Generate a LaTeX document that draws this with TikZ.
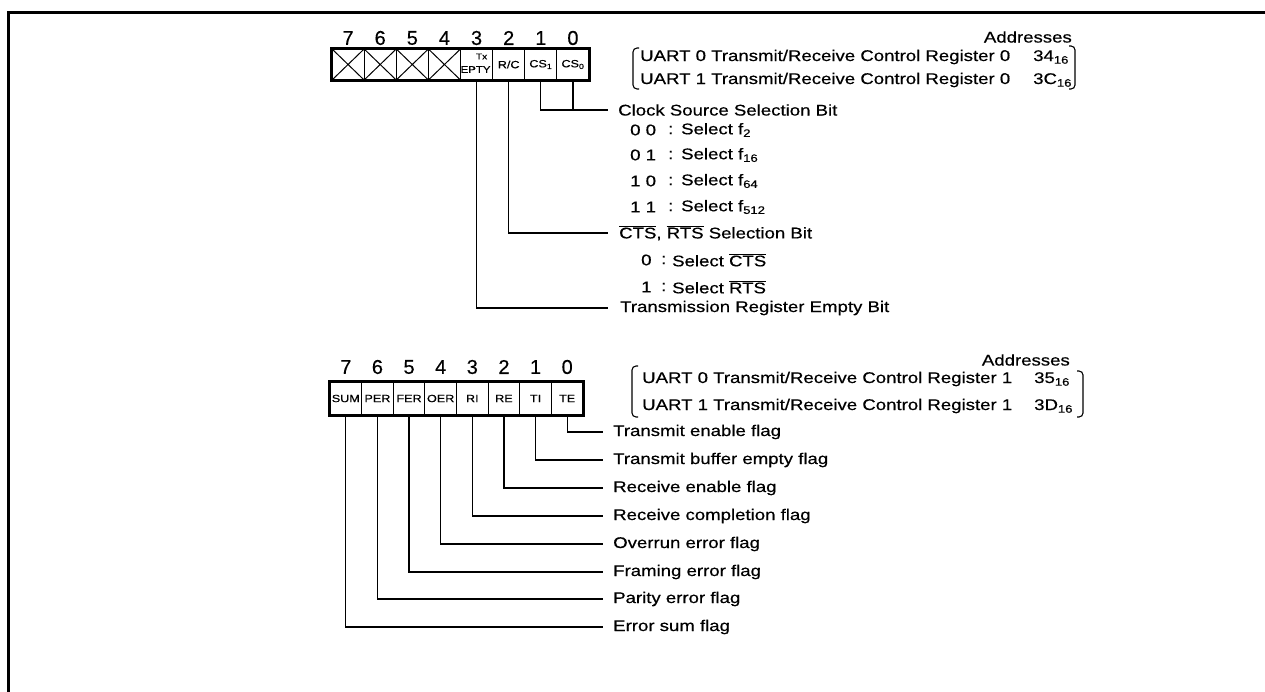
\documentclass[tikz,border=0pt]{standalone}
\usepackage{fontspec}
\setmainfont{Liberation Sans}[FakeStretch=1.2,FakeBold=0.5]
\newfontfamily\digfont{Liberation Sans}[FakeStretch=1.0,FakeBold=0.3]
\usetikzlibrary{calc}
\begin{document}
\begin{tikzpicture}[x=1pt,y=-1pt,
  lbl/.style={anchor=west,inner sep=0pt,font=\fontsize{15.5}{18}\selectfont},
  dig/.style={inner sep=0pt,font=\digfont\fontsize{20}{22}\selectfont},
  cell/.style={draw,line width=1pt,inner sep=0pt,font=\fontsize{10.5}{11}\selectfont},
  wire/.style={line width=1.2pt},
  regbox/.style={draw,line width=2.8pt},
  brk/.style={line width=1.1pt,rounded corners=4pt}]
\useasboundingbox (0,0) rectangle (1265,692);
% frame
\draw[line width=3pt] (8,692) -- (8,13) -- (1265,13);

% ---------- top register ----------
\foreach \i in {0,...,7}{
  \pgfmathtruncatemacro\b{7-\i}
  \node[cell,minimum width=32.125pt,minimum height=31pt] (t\b) at ({332+(\i+0.5)*32.125},64.5) {};
  \node[dig] (td\b) at ({332+(\i+0.5)*32.125},38) {\b};
}
\foreach \b in {7,6,5,4}{
  \draw[line width=1pt] (t\b.north west) -- (t\b.south east) (t\b.south west) -- (t\b.north east);
}
\node[inner sep=0pt,font=\fontsize{8.5}{9}\selectfont] (tx) at ($(t3)+(5,-8)$) {Tx};
\node[inner sep=0pt,font=\fontsize{9.5}{10}\selectfont] (epty) at ($(t3)+(-1,5)$) {EPTY};
\node[inner sep=0pt,font=\fontsize{10.5}{11}\selectfont] (rc) at (t2) {R/C};
\node[inner sep=0pt,font=\fontsize{10.5}{11}\selectfont] (cs1l) at (t1) {CS\textsubscript{1}};
\node[inner sep=0pt,font=\fontsize{10.5}{11}\selectfont] (cs0l) at (t0) {CS\textsubscript{0}};
\draw[regbox] (t7.north west) rectangle (t0.south east);

% addresses top
\node[lbl,anchor=east] (adr0) at (1072,37) {Addresses};
\node[lbl] (a00) at (640,57) {UART 0 Transmit/Receive Control Register 0};
\node[lbl] (v00) at (1033,57) {34\textsubscript{16}};
\node[lbl] (a01) at (640,80) {UART 1 Transmit/Receive Control Register 0};
\node[lbl] (v01) at (1033,80) {3C\textsubscript{16}};
\draw[brk] (639,48) -- (633,48) -- (633,89) -- (639,89);
\draw[brk] (1069,46) -- (1075,46) -- (1075,89) -- (1069,89);

% clock source
\node[lbl] (cs) at (618,110) {Clock Source Selection Bit};
\coordinate (csend) at ($(cs.west)+(-10,0)$);
\draw[wire] (t1.south) |- (csend);
\draw[wire] (t0.south) -- (t0.south |- csend);
\foreach \v/\s/\y [count=\k] in {0 0/2/130, 0 1/16/155, 1 0/64/181, 1 1/512/207}{
  \node[lbl] (csv\k) at (630,\y) {\v};
  \node[lbl] (csc\k) at (668,\y) {:};
  \node[lbl] (css\k) at (681,\y) {Select f\textsubscript{\s}};
}
% CTS RTS
\node[lbl] (ctsrts) at (619,233) {$\overline{\mbox{CTS}}$, $\overline{\mbox{RTS}}$ Selection Bit};
\coordinate (rcend) at ($(ctsrts.west)+(-11,0)$);
\draw[wire] (t2.south) |- (rcend);
\node[lbl] (crv1) at (641,260) {0};
\node[lbl] (crc1) at (661,260) {:};
\node[lbl] (crs1) at (672,260) {Select $\overline{\mbox{CTS}}$};
\node[lbl] (crv2) at (641,287) {1};
\node[lbl] (crc2) at (661,287) {:};
\node[lbl] (crs2) at (672,287) {Select $\overline{\mbox{RTS}}$};
% Tx empty
\node[lbl] (tre) at (620,308) {Transmission Register Empty Bit};
\coordinate (treend) at ($(tre.west)+(-12,0)$);
\draw[wire] (t3.south) |- (treend);

% ---------- bottom register ----------
\foreach \i/\t in {0/SUM,1/PER,2/FER,3/OER,4/RI,5/RE,6/TI,7/TE}{
  \pgfmathtruncatemacro\b{7-\i}
  \node[cell,minimum width=31.625pt,minimum height=33pt] (b\b) at ({330+(\i+0.5)*31.625},398.5) {\t};
  \node[dig] (bd\b) at ({330+(\i+0.5)*31.625},367) {\b};
}
\draw[regbox] (b7.north west) rectangle (b0.south east);

% addresses bottom
\node[lbl,anchor=east] (adr1) at (1070,360) {Addresses};
\node[lbl] (a10) at (642,379) {UART 0 Transmit/Receive Control Register 1};
\node[lbl] (v10) at (1034,379) {35\textsubscript{16}};
\node[lbl] (a11) at (642,406) {UART 1 Transmit/Receive Control Register 1};
\node[lbl] (v11) at (1034,406) {3D\textsubscript{16}};
\draw[brk] (638,366) -- (632,366) -- (632,417) -- (638,417);
\draw[brk] (1077,371) -- (1083,371) -- (1083,417) -- (1077,417);

% flags
\foreach \b/\y/\t in {0/432/Transmit enable flag,1/460/Transmit buffer empty flag,2/488/Receive enable flag,3/516/Receive completion flag,4/544/Overrun error flag,5/572/Framing error flag,6/599/Parity error flag,7/627/Error sum flag}{
  \node[lbl] (f\b) at (613,\y) {\t};
  \draw[wire] (b\b.south) |- ($(f\b.west)+(-10,0)$);
}
\end{tikzpicture}
\end{document}
